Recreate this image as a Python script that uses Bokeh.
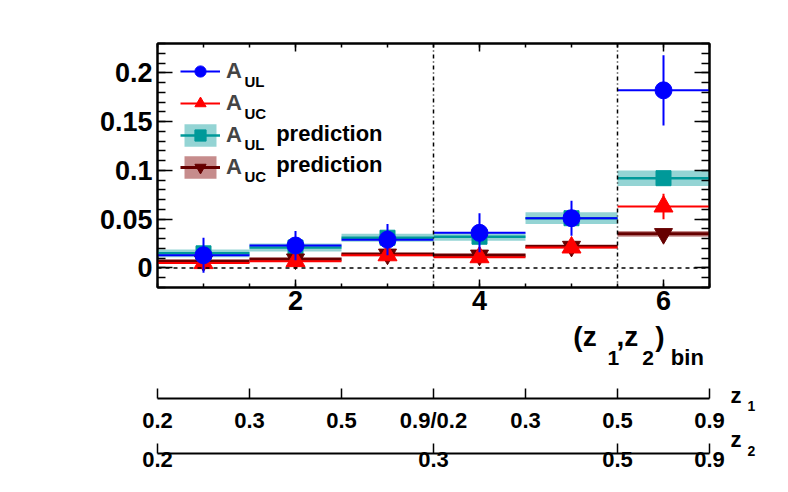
import numpy as np
from bokeh.plotting import figure
from bokeh.models import (ColumnDataSource, Range1d, LinearAxis, FixedTicker, Span,
                          Label, Legend, LegendItem)
from bokeh.core.properties import value
from bokeh.layouts import column
from bokeh.embed import file_html
from bokeh.resources import INLINE

# ---------------- data ----------------
bins = [1, 2, 3, 4, 5, 6]
a_ul = [0.013, 0.023, 0.029, 0.036, 0.051, 0.182]
a_ul_err = [0.018, 0.015, 0.016, 0.020, 0.018, 0.036]
a_uc = [0.005, 0.007, 0.013, 0.011, 0.021, 0.063]
a_uc_err = [0.005, 0.005, 0.005, 0.005, 0.006, 0.013]
a_ul_pred = [0.015, 0.021, 0.031, 0.032, 0.051, 0.092]
a_ul_pred_err = [0.004, 0.004, 0.004, 0.004, 0.006, 0.008]
a_uc_pred = [0.007, 0.009, 0.014, 0.013, 0.022, 0.035]
a_uc_pred_err = [0.002, 0.002, 0.002, 0.002, 0.002, 0.003]

x_ticks = [2, 4, 6]
y_ticks = [0, 0.05, 0.1, 0.15, 0.2]
y_tick_labels = ["0", "0.05", "0.1", "0.15", "0.2"]
bin_edges = [0.5, 1.5, 2.5, 3.5, 4.5, 5.5, 6.5]
z1_labels = ["0.2", "0.3", "0.5", "0.9/0.2", "0.3", "0.5", "0.9"]
z2_edges = [0.5, 3.5, 5.5, 6.5]
z2_labels = ["0.2", "0.3", "0.5", "0.9"]
separators = [3.5, 5.5]
zero_level = 0

# ---------------- styles ----------------
FONT = "Liberation Sans"
BLUE = "#0000ff"
RED = "#ff0000"
TEAL = "#009999"
DRED = "#660000"
DRED_BAND = "#800000"
W = 780
LEFT = 157          # frame left (px)
RIGHT = 709         # frame right (px)
TOP = 43            # frame top (px)
PX_PER_Y = 976      # px per y unit
Y_MAX = 0.23
MID = 0.36          # baseline -> middle offset (em)
half = 0.5
A_H = 318           # height of the main figure


def arr(v):
    return np.array(v, dtype=float)


x = arr(bins)
src = ColumnDataSource(dict(
    x=x, left=x - half, right=x + half,
    ul=arr(a_ul), ul_lo=arr(a_ul) - arr(a_ul_err), ul_hi=arr(a_ul) + arr(a_ul_err),
    uc=arr(a_uc), uc_lo=arr(a_uc) - arr(a_uc_err), uc_hi=arr(a_uc) + arr(a_uc_err),
    ulp=arr(a_ul_pred), ulp_lo=arr(a_ul_pred) - arr(a_ul_pred_err), ulp_hi=arr(a_ul_pred) + arr(a_ul_pred_err),
    ucp=arr(a_uc_pred), ucp_lo=arr(a_uc_pred) - arr(a_uc_pred_err), ucp_hi=arr(a_uc_pred) + arr(a_uc_pred_err),
))

y_minor = [float(v) for v in np.round(np.arange(-0.02, 0.2301, 0.01), 3)]
x_minor = [float(v) for v in np.arange(0.5, 6.51, 0.5)]


def style_axis(ax, major_in, minor_in, size="27px", show=True, standoff=6):
    ax.axis_line_color = "black"
    ax.axis_line_width = 2
    ax.major_tick_in = major_in
    ax.major_tick_out = 0
    ax.minor_tick_in = minor_in
    ax.minor_tick_out = 0
    ax.major_tick_line_color = "black"
    ax.major_tick_line_width = 1.5
    ax.minor_tick_line_color = "black"
    ax.minor_tick_line_width = 1.5
    ax.major_label_text_font = FONT
    ax.major_label_text_font_style = "bold"
    ax.major_label_text_font_size = size
    ax.major_label_text_color = "black"
    ax.major_label_standoff = standoff
    if not show:
        ax.major_label_text_font_size = "1px"
        ax.major_label_text_color = None


def lab(fig, xx, yy, text, size_px):
    fig.add_layout(Label(x=xx, y=yy, text=text, text_font=FONT, text_font_style="bold",
                         text_font_size=f"{size_px}px", text_baseline="middle",
                         text_align="left", text_color="black"))


def lab_main(xx, baseline_px, text, size_px):
    """label in the main plot, positioned by its baseline (page px)"""
    py = baseline_px - MID * size_px
    lab(p, xx, Y_MAX - (py - TOP) / PX_PER_Y, text, size_px)


# ---------------- main plot ----------------
p = figure(width=W, height=A_H, x_range=Range1d(0.5, 6.5), y_range=Range1d(-0.02, Y_MAX),
           output_backend="svg", toolbar_location=None, title=None,
           min_border_left=LEFT, min_border_right=W - RIGHT, min_border_top=TOP,
           min_border_bottom=A_H - 287)
p.grid.visible = False
p.outline_line_color = "black"
p.outline_line_width = 2
p.background_fill_color = "white"
p.border_fill_color = "white"

yax = p.yaxis[0]
yax.ticker = FixedTicker(ticks=y_ticks, minor_ticks=y_minor)
yax.major_label_overrides = {float(t): l for t, l in zip(y_ticks, y_tick_labels)}
style_axis(yax, 15, 8, standoff=5)

xax = p.xaxis[0]
xax.ticker = FixedTicker(ticks=x_ticks, minor_ticks=x_minor)
style_axis(xax, 8, 4, standoff=3)

rax = LinearAxis(ticker=FixedTicker(ticks=y_ticks, minor_ticks=y_minor))
style_axis(rax, 15, 8, show=False)
p.add_layout(rax, "right")
tax = LinearAxis(ticker=FixedTicker(ticks=x_ticks, minor_ticks=x_minor))
style_axis(tax, 8, 4, show=False)
p.add_layout(tax, "above")

for s in separators:
    p.add_layout(Span(location=s, dimension="height", line_color="black",
                      line_dash="4 3 1 3", line_width=1.5))
p.add_layout(Span(location=zero_level, dimension="width", line_color="black",
                  line_dash="4 4", line_width=1.5))

# predictions
ulp_band = p.quad(left="left", right="right", bottom="ulp_lo", top="ulp_hi", source=src,
                  fill_color=TEAL, fill_alpha=0.42, line_color=None)
ucp_band = p.quad(left="left", right="right", bottom="ucp_lo", top="ucp_hi", source=src,
                  fill_color=DRED_BAND, fill_alpha=0.45, line_color=None)
ulp_line = p.segment(x0="left", y0="ulp", x1="right", y1="ulp", source=src,
                     line_color=TEAL, line_width=2.5)
ulp_mark = p.scatter("x", "ulp", source=src, marker="square", size=15,
                     fill_color=TEAL, line_color=TEAL)
ucp_line = p.segment(x0="left", y0="ucp", x1="right", y1="ucp", source=src,
                     line_color=DRED, line_width=3)
ucp_mark = p.scatter("x", "ucp", source=src, marker="inverted_triangle", size=18,
                     fill_color=DRED, line_color=DRED)
# A_UC
uc_line = p.segment(x0="left", y0="uc", x1="right", y1="uc", source=src,
                    line_color=RED, line_width=2)
uc_err = p.segment(x0="x", y0="uc_lo", x1="x", y1="uc_hi", source=src,
                   line_color=RED, line_width=2)
uc_mark = p.scatter("x", "uc", source=src, marker="triangle", size=19,
                    fill_color=RED, line_color=RED)
# A_UL
ul_line = p.segment(x0="left", y0="ul", x1="right", y1="ul", source=src,
                    line_color=BLUE, line_width=2)
ul_err = p.segment(x0="x", y0="ul_lo", x1="x", y1="ul_hi", source=src,
                   line_color=BLUE, line_width=2)
ul_mark = p.scatter("x", "ul", source=src, marker="circle", size=17,
                    fill_color=BLUE, line_color=BLUE)

legend = Legend(items=[
    LegendItem(label=value("A"), renderers=[ul_line, ul_mark]),
    LegendItem(label=value("A"), renderers=[uc_line, uc_mark]),
    LegendItem(label=value("A"), renderers=[ulp_band, ulp_line, ulp_mark]),
    LegendItem(label=value("A"), renderers=[ucp_band, ucp_line, ucp_mark]),
], location=(23, 106), orientation="vertical", padding=0, margin=0, spacing=4,
    glyph_width=40, glyph_height=28, label_standoff=6, label_height=20,
    label_text_font=FONT, label_text_font_style="bold", label_text_font_size="22px",
    border_line_color=None, background_fill_alpha=0)
p.add_layout(legend)

# legend subscripts and words (inside the frame)
lab_main(1.446, 86.5, "UL", 15)
lab_main(1.446, 118, "UC", 15)
lab_main(1.446, 149.7, "UL", 15)
lab_main(1.79, 141, "prediction", 22)
lab_main(1.446, 181.3, "UC", 15)
lab_main(1.79, 171.7, "prediction", 22)

# ---------------- lower figure: title + z1 / z2 axes ----------------
B_TOP = A_H
B_H = 476 - B_TOP
FRAME_H = 398 - B_TOP
pz = figure(width=W, height=B_H, x_range=p.x_range, y_range=Range1d(FRAME_H, 0),
            output_backend="svg", toolbar_location=None, title=None, y_axis_location=None,
            min_border_left=LEFT, min_border_right=W - RIGHT, min_border_top=0,
            min_border_bottom=B_H - FRAME_H)
pz.grid.visible = False
pz.outline_line_color = None
pz.background_fill_color = "white"
pz.border_fill_color = "white"

z1ax = pz.xaxis[0]
z1ax.ticker = FixedTicker(ticks=bin_edges)
z1ax.major_label_overrides = {float(e): l for e, l in zip(bin_edges, z1_labels)}
style_axis(z1ax, 10, 0, size="22px", standoff=9)
z1ax.minor_tick_line_color = None
z1ax.axis_label = " "
z1ax.axis_label_text_font_size = "12px"
z1ax.axis_label_standoff = 1

z2ax = LinearAxis(ticker=FixedTicker(ticks=z2_edges))
z2ax.major_label_overrides = {float(e): l for e, l in zip(z2_edges, z2_labels)}
style_axis(z2ax, 10, 0, size="22px", standoff=-2)
z2ax.minor_tick_line_color = None
pz.add_layout(z2ax, "below")


def lab_low(xx, baseline_px, text, size_px):
    lab(pz, xx, baseline_px - MID * size_px - B_TOP, text, size_px)


# axis title (z1,z2)bin, inside the lower frame
lab_low(5.02, 346, "(z", 28)
lab_low(5.39, 365, "1", 21)
lab_low(5.49, 346, ",z", 28)
lab_low(5.77, 365, "2", 21)
lab_low(5.91, 346, ")", 28)
lab_low(6.08, 365, "bin", 22)

# z1 / z2 names to the right of the axes (overlay level text glyphs)
name_src = ColumnDataSource(dict(
    x=[6.728, 6.728], y=[403 - MID * 22 - B_TOP, 447 - MID * 22 - B_TOP], text=["z", "z"]))
sub_src = ColumnDataSource(dict(
    x=[6.913, 6.913], y=[411 - MID * 14 - B_TOP, 456 - MID * 14 - B_TOP], text=["1", "2"]))
pz.text(x="x", y="y", text="text", source=name_src, text_font=value(FONT),
        text_font_style="bold", text_font_size=value("22px"), text_baseline="middle",
        text_color="black", level="overlay")
pz.text(x="x", y="y", text="text", source=sub_src, text_font=value(FONT),
        text_font_style="bold", text_font_size=value("14px"), text_baseline="middle",
        text_color="black", level="overlay")

layout = column(p, pz, spacing=0)
open("out.html", "w").write(file_html(layout, INLINE))
